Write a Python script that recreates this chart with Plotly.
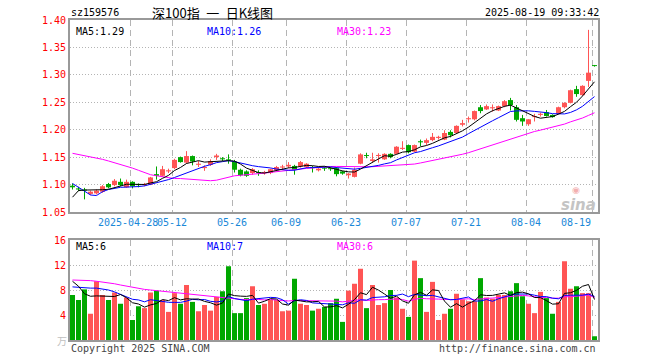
import numpy as np
import plotly.graph_objects as go

# ---------------- data ----------------
opens = [1.098, 1.093, 1.091, 1.083, 1.084, 1.087, 1.101, 1.099, 1.105, 1.095,
         1.105, 1.100, 1.099, 1.100, 1.119, 1.116, 1.124, 1.130, 1.150, 1.140,
         1.152, 1.136, 1.130, 1.136, 1.150, 1.148, 1.146, 1.142, 1.127, 1.124,
         1.121, 1.122, 1.121, 1.121, 1.126, 1.131, 1.133, 1.134, 1.133, 1.132,
         1.132, 1.126, 1.130, 1.129, 1.130, 1.124, 1.117, 1.114, 1.138, 1.153,
         1.143, 1.152, 1.146, 1.156, 1.156, 1.165, 1.172, 1.160, 1.179, 1.176,
         1.181, 1.185, 1.182, 1.196, 1.194, 1.209, 1.219, 1.219, 1.241, 1.237,
         1.239, 1.235, 1.243, 1.254, 1.241, 1.221, 1.210, 1.223, 1.227, 1.232,
         1.227, 1.229, 1.241, 1.249, 1.274, 1.263, 1.289, 1.317]
highs = [1.102, 1.096, 1.094, 1.089, 1.091, 1.099, 1.103, 1.110, 1.111, 1.109,
         1.106, 1.102, 1.103, 1.114, 1.133, 1.134, 1.129, 1.147, 1.151, 1.161,
         1.153, 1.143, 1.135, 1.146, 1.156, 1.150, 1.155, 1.145, 1.129, 1.126,
         1.130, 1.126, 1.125, 1.129, 1.134, 1.136, 1.141, 1.136, 1.143, 1.139,
         1.134, 1.130, 1.133, 1.131, 1.132, 1.125, 1.121, 1.131, 1.157, 1.158,
         1.158, 1.157, 1.157, 1.157, 1.170, 1.179, 1.173, 1.173, 1.182, 1.184,
         1.194, 1.189, 1.199, 1.199, 1.208, 1.218, 1.224, 1.235, 1.245, 1.246,
         1.246, 1.244, 1.254, 1.258, 1.245, 1.227, 1.219, 1.229, 1.231, 1.236,
         1.228, 1.242, 1.250, 1.273, 1.280, 1.281, 1.382, 1.318]
lows = [1.091, 1.088, 1.073, 1.081, 1.082, 1.085, 1.093, 1.097, 1.097, 1.094,
        1.093, 1.095, 1.097, 1.099, 1.109, 1.115, 1.121, 1.128, 1.140, 1.138,
        1.135, 1.132, 1.125, 1.134, 1.145, 1.143, 1.138, 1.122, 1.115, 1.114,
        1.118, 1.116, 1.118, 1.119, 1.124, 1.128, 1.130, 1.118, 1.131, 1.130,
        1.122, 1.124, 1.125, 1.125, 1.115, 1.118, 1.111, 1.113, 1.137, 1.148,
        1.140, 1.140, 1.145, 1.148, 1.155, 1.163, 1.157, 1.159, 1.170, 1.172,
        1.179, 1.182, 1.181, 1.186, 1.193, 1.206, 1.213, 1.217, 1.230, 1.236,
        1.233, 1.234, 1.241, 1.235, 1.215, 1.207, 1.207, 1.215, 1.224, 1.224,
        1.222, 1.228, 1.239, 1.248, 1.260, 1.262, 1.278, 1.315]
closes = [1.095, 1.091, 1.089, 1.087, 1.089, 1.097, 1.095, 1.107, 1.099, 1.105,
          1.097, 1.099, 1.101, 1.113, 1.116, 1.128, 1.126, 1.145, 1.141, 1.152,
          1.142, 1.138, 1.132, 1.143, 1.153, 1.146, 1.144, 1.127, 1.117, 1.116,
          1.128, 1.121, 1.123, 1.128, 1.132, 1.133, 1.136, 1.127, 1.141, 1.138,
          1.130, 1.129, 1.129, 1.128, 1.119, 1.120, 1.120, 1.127, 1.155, 1.152,
          1.146, 1.154, 1.156, 1.150, 1.169, 1.167, 1.159, 1.172, 1.177, 1.181,
          1.187, 1.187, 1.194, 1.190, 1.207, 1.212, 1.221, 1.234, 1.234, 1.243,
          1.241, 1.243, 1.252, 1.245, 1.218, 1.215, 1.219, 1.224, 1.229, 1.225,
          1.223, 1.241, 1.249, 1.272, 1.265, 1.280, 1.304, 1.316]
volumes = [7.2, 6.4, 8.1, 4.2, 9.4, 7.2, 6.4, 7.6, 5.8, 6.8,
           3.2, 5.4, 5.1, 7.6, 7.9, 6.4, 4.5, 7.5, 5.8, 8.8,
           6.1, 4.6, 5.6, 4.7, 6.9, 7.8, 11.8, 4.3, 4.3, 6.7,
           8.6, 5.6, 5.8, 6.4, 6.4, 4.6, 4.7, 9.8, 5.8, 5.6,
           4.7, 5.0, 5.3, 5.9, 6.6, 2.9, 7.9, 9.0, 11.4, 5.1,
           8.8, 5.6, 5.9, 8.0, 6.8, 5.0, 3.7, 12.7, 9.9, 4.5,
           9.3, 3.2, 4.2, 5.0, 7.4, 6.5, 6.2, 6.2, 9.9, 6.8,
           6.6, 7.2, 7.2, 7.8, 9.1, 7.0, 5.8, 4.3, 7.7, 6.7,
           4.2, 6.1, 12.6, 8.2, 8.6, 7.5, 7.5, 0.6]

# moving-average values at the start of the window (prior days not shown)
ma5_head = [1.077, 1.089, 1.090, 1.090]
ma10_head = [1.102, 1.095, 1.088, 1.081, 1.080, 1.087, 1.091, 1.093, 1.095]
ma30_head = [1.157, 1.155, 1.153, 1.151, 1.149, 1.146, 1.143, 1.140, 1.136, 1.133,
             1.130, 1.126, 1.122, 1.118, 1.116, 1.114, 1.112, 1.111, 1.111, 1.110,
             1.109, 1.108, 1.107, 1.107, 1.108, 1.111, 1.114, 1.116, 1.117]
vma5_head = [9.4, 8.6, 7.4, 7.0]
vma10_head = [8.5, 8.4, 8.4, 8.3, 8.3, 8.2, 8.0, 7.7, 7.3]
vma30_head = [9.6, 9.6, 9.5, 9.5, 9.4, 9.3, 9.1, 9.0, 8.8, 8.6,
              8.4, 8.2, 8.1, 8.0, 7.9, 7.8, 7.6, 7.5, 7.4, 7.3,
              7.2, 7.1, 7.0, 6.9, 6.9, 6.8, 6.7, 6.6, 6.5]

tick_idx = [10, 17, 27, 36, 46, 56, 66, 76, 87]
tick_labels = ["2025-04-28", "05-12", "05-26", "06-09", "06-23", "07-07", "07-21", "08-04", "08-19"]
price_ticks = [1.05, 1.10, 1.15, 1.20, 1.25, 1.30, 1.35, 1.40]
vol_ticks = [4, 8, 12, 16]

title_code = "sz159576"
title_name = "深100指\u2002一\u2002日K线图"
title_time = "2025-08-19 09:33:42"
ma_labels = ["MA5:1.29", "MA10:1.26", "MA30:1.23"]
vma_labels = ["MA5:6", "MA10:7", "MA30:6"]

# ---------------- helpers ----------------
RED = "#ff5555"
GREEN = "#00a800"
MONO = "DejaVu Sans Mono"


def moving_avg(values, n, head):
    v = np.asarray(values, dtype=float)
    out = []
    for i in range(len(v)):
        out.append(head[i] if i < n - 1 else float(v[i - n + 1:i + 1].mean()))
    return out


n = len(closes)
idx = list(range(n))
up = [c >= o for o, c in zip(opens, closes)]
colors = [RED if u else GREEN for u in up]
body_base = [min(o, c) for o, c in zip(opens, closes)]
body_h = [max(abs(c - o), 0.0018) for o, c in zip(opens, closes)]

fig = go.Figure()

# wicks
for col, flag in ((RED, True), (GREEN, False)):
    xs, ys = [], []
    for i in idx:
        if up[i] == flag:
            xs += [i, i, None]
            ys += [lows[i], highs[i], None]
    fig.add_trace(go.Scatter(x=xs, y=ys, mode="lines", line=dict(color=col, width=1),
                             xaxis="x", yaxis="y", hoverinfo="skip"))

# bodies
fig.add_trace(go.Bar(x=idx, y=body_h, base=body_base, width=0.83,
                     marker=dict(color=colors, line=dict(width=0)),
                     xaxis="x", yaxis="y"))

# price MAs
for vals, col in ((moving_avg(closes, 30, ma30_head), "#ff00ff"),
                  (moving_avg(closes, 10, ma10_head), "#0000ff"),
                  (moving_avg(closes, 5, ma5_head), "#000000")):
    fig.add_trace(go.Scatter(x=idx, y=vals, mode="lines", line=dict(color=col, width=1),
                             xaxis="x", yaxis="y"))

# volume
fig.add_trace(go.Bar(x=idx, y=volumes, width=0.83,
                     marker=dict(color=colors, line=dict(width=0)),
                     xaxis="x2", yaxis="y2"))
for vals, col in ((moving_avg(volumes, 30, vma30_head), "#ff00ff"),
                  (moving_avg(volumes, 10, vma10_head), "#0000ff"),
                  (moving_avg(volumes, 5, vma5_head), "#000000")):
    fig.add_trace(go.Scatter(x=idx, y=vals, mode="lines", line=dict(color=col, width=1),
                             xaxis="x2", yaxis="y2"))

grid_x = [t - 0.38 for t in tick_idx]
xcommon = dict(range=[-0.4167, n - 0.4167], tickvals=grid_x, showticklabels=False,
               showgrid=True, gridcolor="#b4b4b4", griddash="6px,4px", gridwidth=1,
               zeroline=False, showline=True, mirror=True, linecolor="#999999",
               linewidth=2, ticks="", fixedrange=True)
ycommon = dict(showgrid=True, gridcolor="#b4b4b4", griddash="1px,2px", gridwidth=1,
               zeroline=False, showline=True, mirror=True, linecolor="#999999",
               linewidth=2, ticks="", ticklabelstandoff=0, fixedrange=True,
               tickfont=dict(family=MONO, size=10, color="#ff0000"))

fig.update_layout(
    width=660, height=360,
    margin=dict(l=70, r=62, t=20, b=20),
    paper_bgcolor="white", plot_bgcolor="white",
    showlegend=False, barmode="overlay", hovermode=False,
    xaxis=dict(anchor="y", domain=[0, 1], **xcommon),
    xaxis2=dict(anchor="y2", domain=[0, 1], matches="x", **xcommon),
    yaxis=dict(anchor="x", domain=[0.4, 1.0], range=[1.05, 1.40],
               tickvals=price_ticks, ticktext=[f"{v:.2f}" for v in price_ticks], **ycommon),
    yaxis2=dict(anchor="x2", domain=[0, 0.3125], range=[0, 16],
                tickvals=vol_ticks, ticktext=[str(v) for v in vol_ticks], **ycommon),
)


def py(px):  # pixel y -> paper y
    return (340 - px) / 320.0


def pxx(px):  # pixel x -> paper x
    return (px - 70) / 528.0


ann = []
# date labels
for k, (t, lab) in enumerate(zip(grid_x, tick_labels)):
    last = k == len(tick_labels) - 1
    ann.append(dict(x=t + (0.15 if last else 0), y=py(222), xref="x", yref="paper",
                    text=lab, showarrow=False, xanchor="right" if last else "center",
                    xshift=-2 if k == 0 else 0,
                    yanchor="middle", font=dict(family=MONO, size=10, color="#1a88d8")))
# titles
ann.append(dict(x=pxx(69), y=py(13), xref="paper", yref="paper", text=title_code,
                showarrow=False, xanchor="left", yanchor="middle",
                font=dict(family=MONO, size=10, color="#000")))
ann.append(dict(x=pxx(150), y=py(13), xref="paper", yref="paper", text=title_name,
                showarrow=False, xanchor="left", yanchor="middle",
                font=dict(family="Noto Sans CJK SC", size=13, color="#000")))
ann.append(dict(x=pxx(601), y=py(13), xref="paper", yref="paper", text=title_time,
                showarrow=False, xanchor="right", yanchor="middle",
                font=dict(family=MONO, size=10, color="#000")))
# MA labels
for lab, xp, col in zip(ma_labels, (74, 205, 335), ("#000000", "#0000ff", "#ff00ff")):
    ann.append(dict(x=pxx(xp), y=py(32), xref="paper", yref="paper", text=lab,
                    showarrow=False, xanchor="left", yanchor="middle",
                    font=dict(family=MONO, size=10, color=col)))
for lab, xp, col in zip(vma_labels, (74, 205, 335), ("#000000", "#0000ff", "#ff00ff")):
    ann.append(dict(x=pxx(xp), y=py(246), xref="paper", yref="paper", text=lab,
                    showarrow=False, xanchor="left", yanchor="middle",
                    font=dict(family=MONO, size=10, color=col)))
# footer
ann.append(dict(x=pxx(69), y=py(348), xref="paper", yref="paper",
                text="Copyright 2025 SINA.COM", showarrow=False, xanchor="left",
                yanchor="middle", font=dict(family=MONO, size=10, color="#444")))
ann.append(dict(x=pxx(598), y=py(348), xref="paper", yref="paper",
                text="http://finance.sina.com.cn", showarrow=False, xanchor="right",
                yanchor="middle", font=dict(family=MONO, size=10, color="#444")))
ann.append(dict(x=pxx(62), y=py(340), xref="paper", yref="paper", text="万",
                showarrow=False, xanchor="center", yanchor="middle",
                font=dict(family="Noto Sans CJK SC", size=10, color="#c0c0c0")))
# watermark
ann.append(dict(x=pxx(598), y=py(205), xref="paper", yref="paper", text="<i><b>sina</b></i>",
                showarrow=False, xanchor="right", yanchor="middle",
                font=dict(family="DejaVu Sans", size=15, color="#c4c4c4")))
ann.append(dict(x=pxx(576), y=py(190), xref="paper", yref="paper", text="◉",
                showarrow=False, xanchor="center", yanchor="middle",
                font=dict(family="DejaVu Sans", size=9, color="#f3b0b0")))
fig.update_layout(annotations=ann)

fig.write_html("out.html", config={"displayModeBar": False, "staticPlot": True},
               post_script="document.body.style.margin='0px';")
